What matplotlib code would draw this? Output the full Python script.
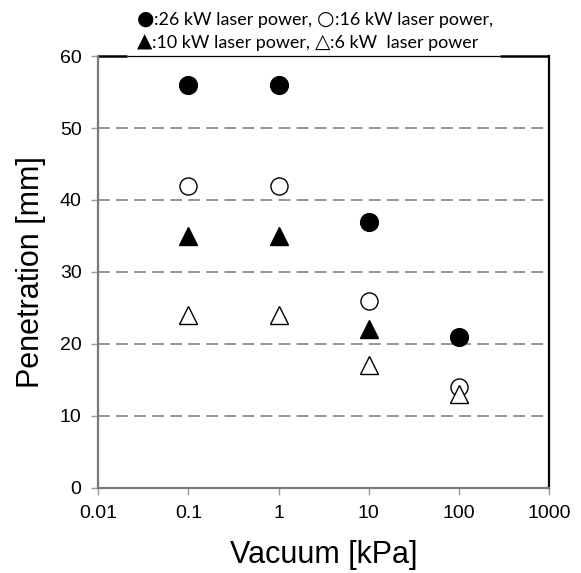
import matplotlib
matplotlib.use("Agg")
import matplotlib.pyplot as plt
from matplotlib.offsetbox import TextArea, HPacker, AnchoredOffsetbox

# ---- data ----
vacuum_kpa = [0.1, 1, 10, 100]
pen_26kw = [56, 56, 37, 21]
pen_16kw = [42, 42, 26, 14]
vacuum_10kw = [0.1, 1, 10]
pen_10kw = [35, 35, 22]
pen_6kw = [24, 24, 17, 13]

x_ticks = [0.01, 0.1, 1, 10, 100, 1000]
x_ticklabels = ["0.01", "0.1", "1", "10", "100", "1000"]
y_ticks = [0, 10, 20, 30, 40, 50, 60]

# legend rows: (symbol, text) pairs
legend_row1 = [("\u25cf", ":26 kW laser power, "), ("\u25cb", ":16 kW laser power,")]
legend_row2 = [("\u25b2", ":10 kW laser power, "), ("\u25b3", ":6 kW  laser power")]

plt.rcParams["font.family"] = ["Liberation Sans", "DejaVu Sans"]
plt.rcParams["lines.scale_dashes"] = False

GRID_C = "#8c8c8c"
SPINE_GRAY = "#7a7a7a"
MS = 12.8
LEG_FS = 12.9

fig = plt.figure(figsize=(5.81, 5.73), dpi=100)
ax = fig.add_axes([0.169, 0.149, 0.776, 0.753])

for y in y_ticks[1:-1]:
    ax.axhline(y, color=GRID_C, lw=1.3, ls=(0, (8.5, 4.5)), zorder=0)

ax.plot(vacuum_kpa, pen_26kw, "o", ms=MS, color="black", zorder=3)
ax.plot(vacuum_kpa, pen_16kw, "o", ms=MS - 0.5, mfc="white", mec="black",
        mew=1.0, zorder=3)
ax.plot(vacuum_10kw, pen_10kw, "^", ms=MS, color="black", zorder=3)
ax.plot(vacuum_kpa, pen_6kw, "^", ms=MS, mfc="white", mec="black",
        mew=1.0, zorder=4)

ax.set_xscale("log")
ax.set_xlim(0.01, 1000)
ax.set_ylim(0, 60)
ax.set_xticks(x_ticks)
ax.set_xticklabels(x_ticklabels)
ax.xaxis.set_minor_locator(matplotlib.ticker.NullLocator())
ax.set_yticks(y_ticks)

ax.tick_params(axis="both", direction="out", length=5, width=1.0,
               color="#999999", labelsize=14, pad=7.5)
ax.tick_params(axis="y", pad=7)

for side in ("left", "bottom"):
    ax.spines[side].set_color(SPINE_GRAY)
    ax.spines[side].set_linewidth(1.6)
ax.spines["right"].set_color("black")
ax.spines["right"].set_linewidth(1.6)
ax.spines["top"].set_visible(False)

# top frame: thick ends, thin middle where the legend text sits
ax.plot([0, 0.064], [1, 1], color="black", lw=1.8, transform=ax.transAxes,
        clip_on=False, solid_capstyle="butt")
ax.plot([0.064, 0.891], [1, 1], color="black", lw=0.9, transform=ax.transAxes,
        clip_on=False, solid_capstyle="butt")
ax.plot([0.891, 1.0], [1, 1], color="black", lw=1.8, transform=ax.transAxes,
        clip_on=False, solid_capstyle="butt")

ax.set_xlabel("Vacuum [kPa]", fontsize=22, labelpad=13)
ax.set_ylabel("Penetration [mm]", fontsize=22, labelpad=10)


def legend_row(pairs):
    parts = []
    for sym, txt in pairs:
        parts.append(TextArea(sym, textprops=dict(fontsize=LEG_FS + 1.5,
                                                  family="DejaVu Sans")))
        parts.append(TextArea(txt, textprops=dict(fontsize=LEG_FS,
                                                  family=["Lato", "DejaVu Sans"])))
    return HPacker(children=parts, align="baseline", pad=0, sep=0)


for row, ytop in ((legend_row1, 10 / 573), (legend_row2, 33 / 573)):
    box = AnchoredOffsetbox(loc="upper left", child=legend_row(row), pad=0,
                            borderpad=0, frameon=False,
                            bbox_to_anchor=(137 / 581, 1 - ytop),
                            bbox_transform=fig.transFigure)
    fig.add_artist(box)

fig.savefig("out.png", dpi=100)
